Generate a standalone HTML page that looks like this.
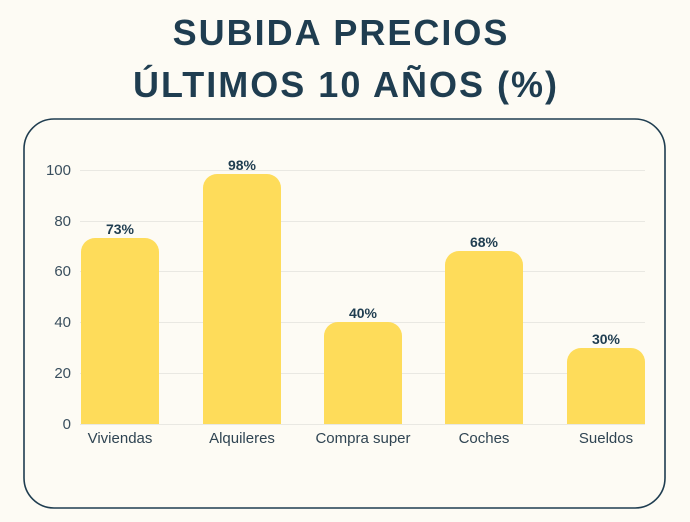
<!DOCTYPE html>
<html><head><style>
body{margin:0;width:690px;height:517px;background:#fdfbf4;overflow:hidden;font-family:"Liberation Sans",sans-serif}
</style></head><body>
<svg width="690" height="517" xmlns="http://www.w3.org/2000/svg">
<rect width="690" height="517" fill="#fdfbf4"/>
<g font-family="Liberation Sans, sans-serif" font-weight="bold" font-size="36" fill="#1f3d50" text-anchor="middle" letter-spacing="2">
<text x="341" y="45">SUBIDA PRECIOS</text>
<text x="346" y="97">ÚLTIMOS 10 AÑOS (%)</text>
</g>
<rect x="24" y="119" width="641" height="389" rx="30" fill="none" stroke="#1f3d50" stroke-width="1.6"/>
<g stroke="#e9e8e2" stroke-width="1">
<line x1="80" x2="645" y1="170.5" y2="170.5"/>
<line x1="80" x2="645" y1="221.5" y2="221.5"/>
<line x1="80" x2="645" y1="271.5" y2="271.5"/>
<line x1="80" x2="645" y1="322.5" y2="322.5"/>
<line x1="80" x2="645" y1="373.5" y2="373.5"/>
<line x1="80" x2="645" y1="424.5" y2="424.5"/>
</g>
<g font-size="15" fill="#3a4f5e" text-anchor="end">
<text x="71" y="175">100</text><text x="71" y="226">80</text><text x="71" y="276">60</text>
<text x="71" y="327">40</text><text x="71" y="378">20</text><text x="71" y="429">0</text>
</g>
<g fill="#fedc5a">
<path d="M81 424V252a14 14 0 0 1 14-14H145a14 14 0 0 1 14 14V424Z"/>
<path d="M203 424V188a14 14 0 0 1 14-14H267a14 14 0 0 1 14 14V424Z"/>
<path d="M324 424V336a14 14 0 0 1 14-14H388a14 14 0 0 1 14 14V424Z"/>
<path d="M445 424V265a14 14 0 0 1 14-14H509a14 14 0 0 1 14 14V424Z"/>
<path d="M567 424V362a14 14 0 0 1 14-14H631a14 14 0 0 1 14 14V424Z"/>
</g>
<g font-size="14" font-weight="bold" fill="#1f3d50" text-anchor="middle">
<text x="120" y="234">73%</text><text x="242" y="170">98%</text><text x="363" y="318">40%</text>
<text x="484" y="247">68%</text><text x="606" y="344">30%</text>
</g>
<g font-size="15" fill="#2f4452" text-anchor="middle">
<text x="120" y="443">Viviendas</text><text x="242" y="443">Alquileres</text><text x="363" y="443">Compra super</text>
<text x="484" y="443">Coches</text><text x="606" y="443">Sueldos</text>
</g>
</svg>
</body></html>
